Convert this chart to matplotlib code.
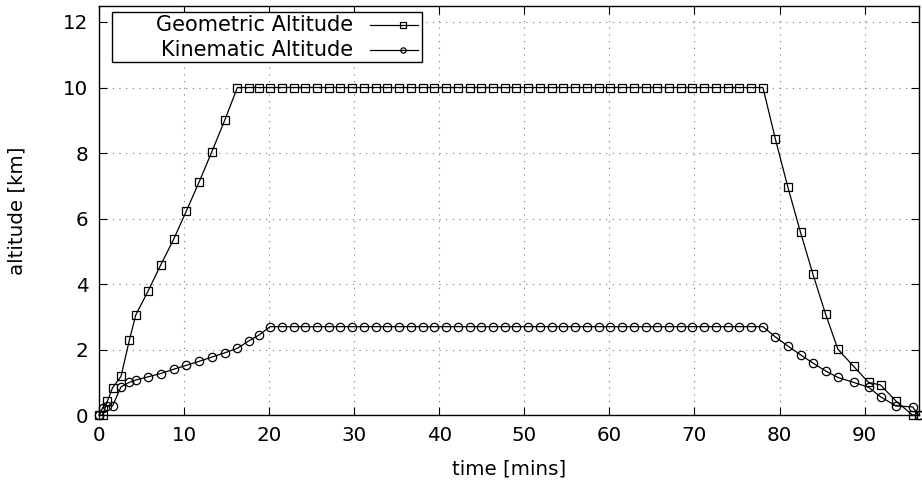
import matplotlib
matplotlib.use("Agg")
import matplotlib.pyplot as plt
from matplotlib.patches import Rectangle
from matplotlib.lines import Line2D

time_mins = [0, 0.4, 0.94, 1.57, 2.55, 3.53, 4.28, 5.76, 7.22, 8.75, 10.24, 11.73,
             13.22, 14.75, 16.24, 17.55, 18.82, 20.08,
             21.46, 22.84, 24.22, 25.60, 26.98, 28.36, 29.74, 31.12, 32.50, 33.88,
             35.26, 36.64, 38.02, 39.40, 40.78, 42.16, 43.54, 44.92, 46.30, 47.68,
             49.06, 50.44, 51.82, 53.20, 54.58, 55.96, 57.34, 58.72, 60.10, 61.48,
             62.86, 64.24, 65.62, 67.00, 68.38, 69.76, 71.14, 72.52, 73.90, 75.28,
             76.66, 78.05,
             79.50, 80.98, 82.47, 83.93, 85.41, 86.87, 88.71, 90.47, 91.88, 93.69,
             95.65, 96.35]

geo_ascent = [0, 0, 0.42, 0.84, 1.18, 2.28, 3.05, 3.80, 4.58, 5.37, 6.23, 7.11,
              8.03, 9.0, 10.0, 10.0, 10.0, 10.0]
geo_plateau = [10.0] * 42
geo_descent = [8.44, 6.96, 5.58, 4.30, 3.09, 2.01, 1.49, 1.00, 0.92, 0.43, 0, 0]
geometric_alt = geo_ascent + geo_plateau + geo_descent

kin_ascent = [0, 0.23, 0.27, 0.29, 0.86, 1.0, 1.07, 1.17, 1.27, 1.40, 1.52, 1.64,
              1.77, 1.90, 2.04, 2.26, 2.45, 2.70]
kin_plateau = [2.70] * 42
kin_descent = [2.39, 2.11, 1.84, 1.59, 1.35, 1.15, 1.00, 0.85, 0.56, 0.28, 0.25, 0]
kinematic_alt = kin_ascent + kin_plateau + kin_descent

series_labels = ['Geometric Altitude', 'Kinematic Altitude']
series_markers = ['s', 'o']

x_ticks = [0, 10, 20, 30, 40, 50, 60, 70, 80, 90]
y_ticks = [0, 2, 4, 6, 8, 10, 12]

plt.rcParams['font.family'] = ['DejaVu Sans']
FS = 14.3
fig = plt.figure(figsize=(9.22, 4.93), dpi=100)
ax = fig.add_axes([0.1077, 0.158, 0.8890, 0.8306])

msizes = [5.5, 6.0]
for yvals, lab, mk, ms in zip([geometric_alt, kinematic_alt], series_labels,
                              series_markers, msizes):
    ax.plot(time_mins, yvals, color='black', lw=0.9, marker=mk, markersize=ms,
            markerfacecolor='none', markeredgecolor='black', markeredgewidth=0.9,
            label=lab, clip_on=False, zorder=3)

ax.set_xlim(0, 96.4)
ax.set_ylim(0, 12.5)
ax.set_xticks(x_ticks)
ax.set_yticks(y_ticks)
ax.tick_params(direction='in', length=6, width=0.8, top=True, right=True,
               labelsize=FS, pad=8)
ax.grid(True, linestyle=(0, (1, 5)), color='#777777', lw=0.8)
for s in ax.spines.values():
    s.set_linewidth(1.0)

ax.set_xlabel('time [mins]', fontsize=FS, labelpad=10)
ax.set_ylabel('altitude [km]', fontsize=FS, labelpad=26)

# gnuplot-style key: right-aligned text, sample line to the right
box = Rectangle((0.0155, 0.862), 0.3782, 0.1225, transform=ax.transAxes,
                facecolor='white', edgecolor='black', lw=1.0, zorder=5)
ax.add_patch(box)
rows_y = [0.952, 0.891]
for lab, mk, yy in zip(series_labels, series_markers, rows_y):
    ax.text(0.3095, yy, lab, transform=ax.transAxes, ha='right', va='center',
            fontsize=15, zorder=6)
    ax.add_line(Line2D([0.330, 0.389], [yy, yy], transform=ax.transAxes,
                       color='black', lw=0.9, zorder=6))
    ax.add_line(Line2D([0.3704], [yy], transform=ax.transAxes, marker=mk,
                       markersize=3.8, markerfacecolor='none',
                       markeredgecolor='black', markeredgewidth=0.9,
                       linestyle='none', zorder=7))

fig.savefig('out.png', dpi=100)
